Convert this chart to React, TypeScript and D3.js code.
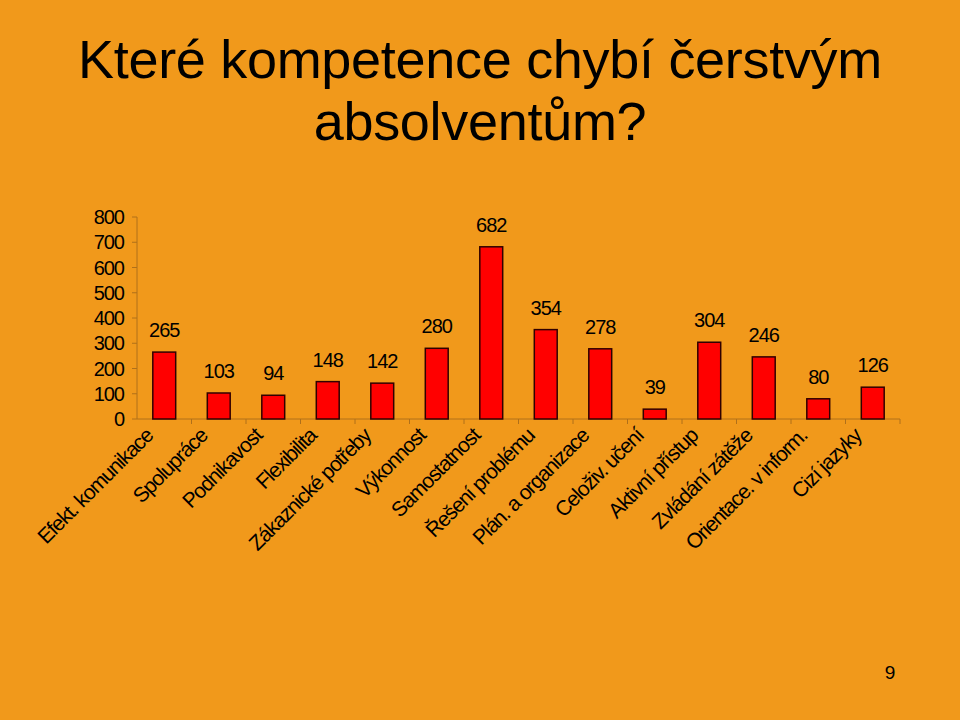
import React from "react";
import * as d3 from "d3";

const categories = [
  "Efekt. komunikace",
  "Spolupráce",
  "Podnikavost",
  "Flexibilita",
  "Zákaznické potřeby",
  "Výkonnost",
  "Samostatnost",
  "Řešení problému",
  "Plán. a organizace",
  "Celoživ. učení",
  "Aktivní přístup",
  "Zvládání zátěže",
  "Orientace. v inform.",
  "Cizí jazyky",
];
const values = [265, 103, 94, 148, 142, 280, 682, 354, 278, 39, 304, 246, 80, 126];
const yTicks = [0, 100, 200, 300, 400, 500, 600, 700, 800];
const titleLines = ["Které kompetence chybí čerstvým", "absolventům?"];
const pageNumber = "9";

const W = 960;
const H = 720;
const margin = { left: 137, right: 60, top: 217, bottom: 301 };
const FONT = "'Liberation Sans', Arial, sans-serif";

export default function App() {
  const x = d3
    .scaleBand<string>()
    .domain(categories)
    .range([margin.left, margin.left + 14 * 54.5])
    .paddingInner(0.58)
    .paddingOuter(0.29);
  const y = d3.scaleLinear().domain([0, 800]).range([H - margin.bottom, margin.top]);
  const band = x.step();
  const x0 = margin.left;
  const x1 = margin.left + 14 * 54.5;
  const axisColor = "#b0701a";

  return (
    <div style={{ position: "fixed", left: 0, top: 0, width: W, height: H }}>
      <svg width={W} height={H} style={{ display: "block" }}>
        <rect x={0} y={0} width={W} height={H} fill="#f1991b" />
        {titleLines.map((t, i) => (
          <text
            key={i}
            x={480}
            y={78 + i * 62}
            textAnchor="middle"
            fontFamily={FONT}
            fontSize={54}
            letterSpacing={-0.3}
            fill="#000"
          >
            {t}
          </text>
        ))}
        {/* y axis */}
        <line x1={x0} x2={x0} y1={y(800)} y2={y(0)} stroke={axisColor} strokeWidth={1} />
        {yTicks.map((t) => (
          <g key={t}>
            <line x1={x0 - 5} x2={x0} y1={y(t)} y2={y(t)} stroke={axisColor} strokeWidth={1} />
            <text
              x={124}
              y={y(t) + 7}
              textAnchor="end"
              fontFamily={FONT}
              fontSize={20}
              letterSpacing={-1}
              fill="#000"
            >
              {t}
            </text>
          </g>
        ))}
        {/* x axis */}
        <line x1={x0} x2={x1} y1={y(0)} y2={y(0)} stroke={axisColor} strokeWidth={1} />
        {categories.map((c, i) => (
          <line
            key={"t" + i}
            x1={x0 + (i + 1) * band}
            x2={x0 + (i + 1) * band}
            y1={y(0)}
            y2={y(0) + 5}
            stroke={axisColor}
            strokeWidth={1}
          />
        ))}
        {/* bars */}
        {categories.map((c, i) => (
          <rect
            key={"b" + i}
            x={x(c)!}
            y={y(values[i])}
            width={x.bandwidth()}
            height={y(0) - y(values[i])}
            fill="#ff0000"
            stroke="#300000"
            strokeWidth={1.5}
          />
        ))}
        {/* value labels */}
        {categories.map((c, i) => (
          <text
            key={"v" + i}
            x={x(c)! + x.bandwidth() / 2}
            y={y(values[i]) - 15}
            textAnchor="middle"
            fontFamily={FONT}
            fontSize={20}
            letterSpacing={-1}
            fill="#000"
          >
            {values[i]}
          </text>
        ))}
        {/* category labels */}
        {categories.map((c, i) => {
          const cx = x(c)! + x.bandwidth() / 2 - 10;
          const cy = y(0) + 18;
          return (
            <text
              key={"c" + i}
              transform={`translate(${cx},${cy}) rotate(-45)`}
              textAnchor="end"
              fontFamily={FONT}
              fontSize={21}
              letterSpacing={-1.1}
              fill="#000"
            >
              {c}
            </text>
          );
        })}
        <text x={890} y={679} textAnchor="middle" fontFamily={FONT} fontSize={19} fill="#000">
          {pageNumber}
        </text>
      </svg>
    </div>
  );
}
